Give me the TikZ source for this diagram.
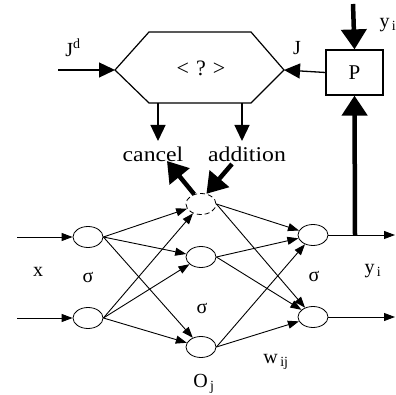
\documentclass[tikz,border=0pt]{standalone}
\usepackage{fontspec}
\setmainfont{Liberation Serif}
\usetikzlibrary{arrows.meta,shapes.geometric}
\begin{document}
\begin{tikzpicture}[x=1pt,y=-1pt,
  neuron/.style={draw,ellipse,minimum width=30pt,minimum height=21pt,inner sep=0pt,line width=0.8pt},
  thinarrow/.style={line width=0.9pt,-{Triangle[length=11pt,width=8pt]}},
  medarrow/.style={line width=1.3pt,-{Triangle[length=16pt,width=15pt]}},
  thickarrow/.style={line width=4.5pt,-{Triangle[length=20pt,width=25pt]}},
  lbl/.style={font=\fontsize{20}{22}\selectfont,inner sep=0pt},
  biglbl/.style={font=\fontsize{21}{23}\selectfont,inner sep=0pt}]
\useasboundingbox (0,0) rectangle (396,395);
% hexagon
\coordinate (hexL) at (115,70);
\coordinate (hexTL) at (149,32);
\coordinate (hexTR) at (251,32);
\coordinate (hexR) at (284,70);
\coordinate (hexBR) at (251,103);
\coordinate (hexBL) at (149,103);
\draw[line width=1.2pt] (hexL) -- (hexTL) -- (hexTR) -- (hexR) -- (hexBR) -- (hexBL) -- cycle;
\node[font=\fontsize{22}{24}\selectfont,inner sep=0pt] (q) at (201,68) {<\hspace{7pt}?\hspace{7pt}>};
% P box
\node[draw,line width=1.2pt,minimum width=57pt,minimum height=45pt,inner sep=0pt,font=\fontsize{21}{23}\selectfont] (P) at (354.5,72.5) {P};
% inputs to hexagon
\coordinate (jdstart) at (58,70);
\draw[medarrow] (jdstart) -- (hexL);
\node[lbl] (Jd) at (73,48) {J\textsuperscript{d}};
\draw[medarrow] (P.west) -- (hexR);
\node[lbl] (J) at (297,48) {J};
\coordinate (ytop) at (353,4);
\draw[thickarrow] (ytop) -- (P.north);
\node[lbl] (ytoplbl) at (388,25) {y\textsubscript{\,i}};
% cancel / addition
\node[biglbl] (cancel) at (153,154) {\scalebox{1.13}[1]{cancel}};
\node[biglbl] (addition) at (247,154) {\scalebox{1.13}[1]{addition}};
\coordinate (b1) at (158,103);
\coordinate (b2) at (242,103);
\draw[medarrow] (b1) -- (b1 |- 0,141);
\draw[medarrow] (b2) -- (b2 |- 0,141);
% neurons
\node[neuron] (I1) at (88,237) {};
\node[neuron] (I2) at (88,318) {};
\node[neuron,dash pattern=on 5pt off 3pt] (D) at (201,204) {};
\node[neuron] (H2) at (201,257) {};
\node[neuron] (H3) at (201,347) {};
\node[neuron] (O1) at (313,235) {};
\node[neuron] (O2) at (313,317) {};
% thick cancel / addition arrows
\coordinate (ctip) at (167,161);
\coordinate (atail) at (232,164);
\draw[thickarrow] (D.125) -- (ctip);
\draw[thickarrow] (atail) -- (D.62);
% input arrows
\coordinate (in1) at (17,237);
\coordinate (in2) at (17,318);
\draw[thinarrow] (in1) -- (I1);
\draw[thinarrow] (in2) -- (I2);
% input -> hidden
\foreach \s in {I1,I2}{
  \foreach \t in {D,H2,H3}{
    \draw[thinarrow] (\s.east) -- (\t);
  }
}
% hidden -> output
\foreach \s in {D,H2,H3}{
  \foreach \t in {O1,O2}{
    \draw[thinarrow] (\s.east) -- (\t);
  }
}
% outputs
\coordinate (out1) at (395,235);
\coordinate (out2) at (395,317);
\draw[thinarrow] (O1) -- (out1);
\draw[thinarrow] (O2) -- (out2);
\coordinate (tap) at (355,235);
\draw[thickarrow] (tap) -- (P.south);
% labels
\node[lbl] (xl) at (38,272) {x};
\node[lbl] (s1) at (88,277) {σ};
\node[lbl] (s2) at (202,308) {σ};
\node[lbl] (s3) at (314,276) {σ};
\node[lbl] (yout) at (373,271) {y\textsubscript{\,i}};
\node[lbl] (Oj) at (204,384) {O\textsubscript{\,j}};
\node[lbl] (wij) at (276,362) {w\textsubscript{\,ij}};
\end{tikzpicture}
\end{document}
